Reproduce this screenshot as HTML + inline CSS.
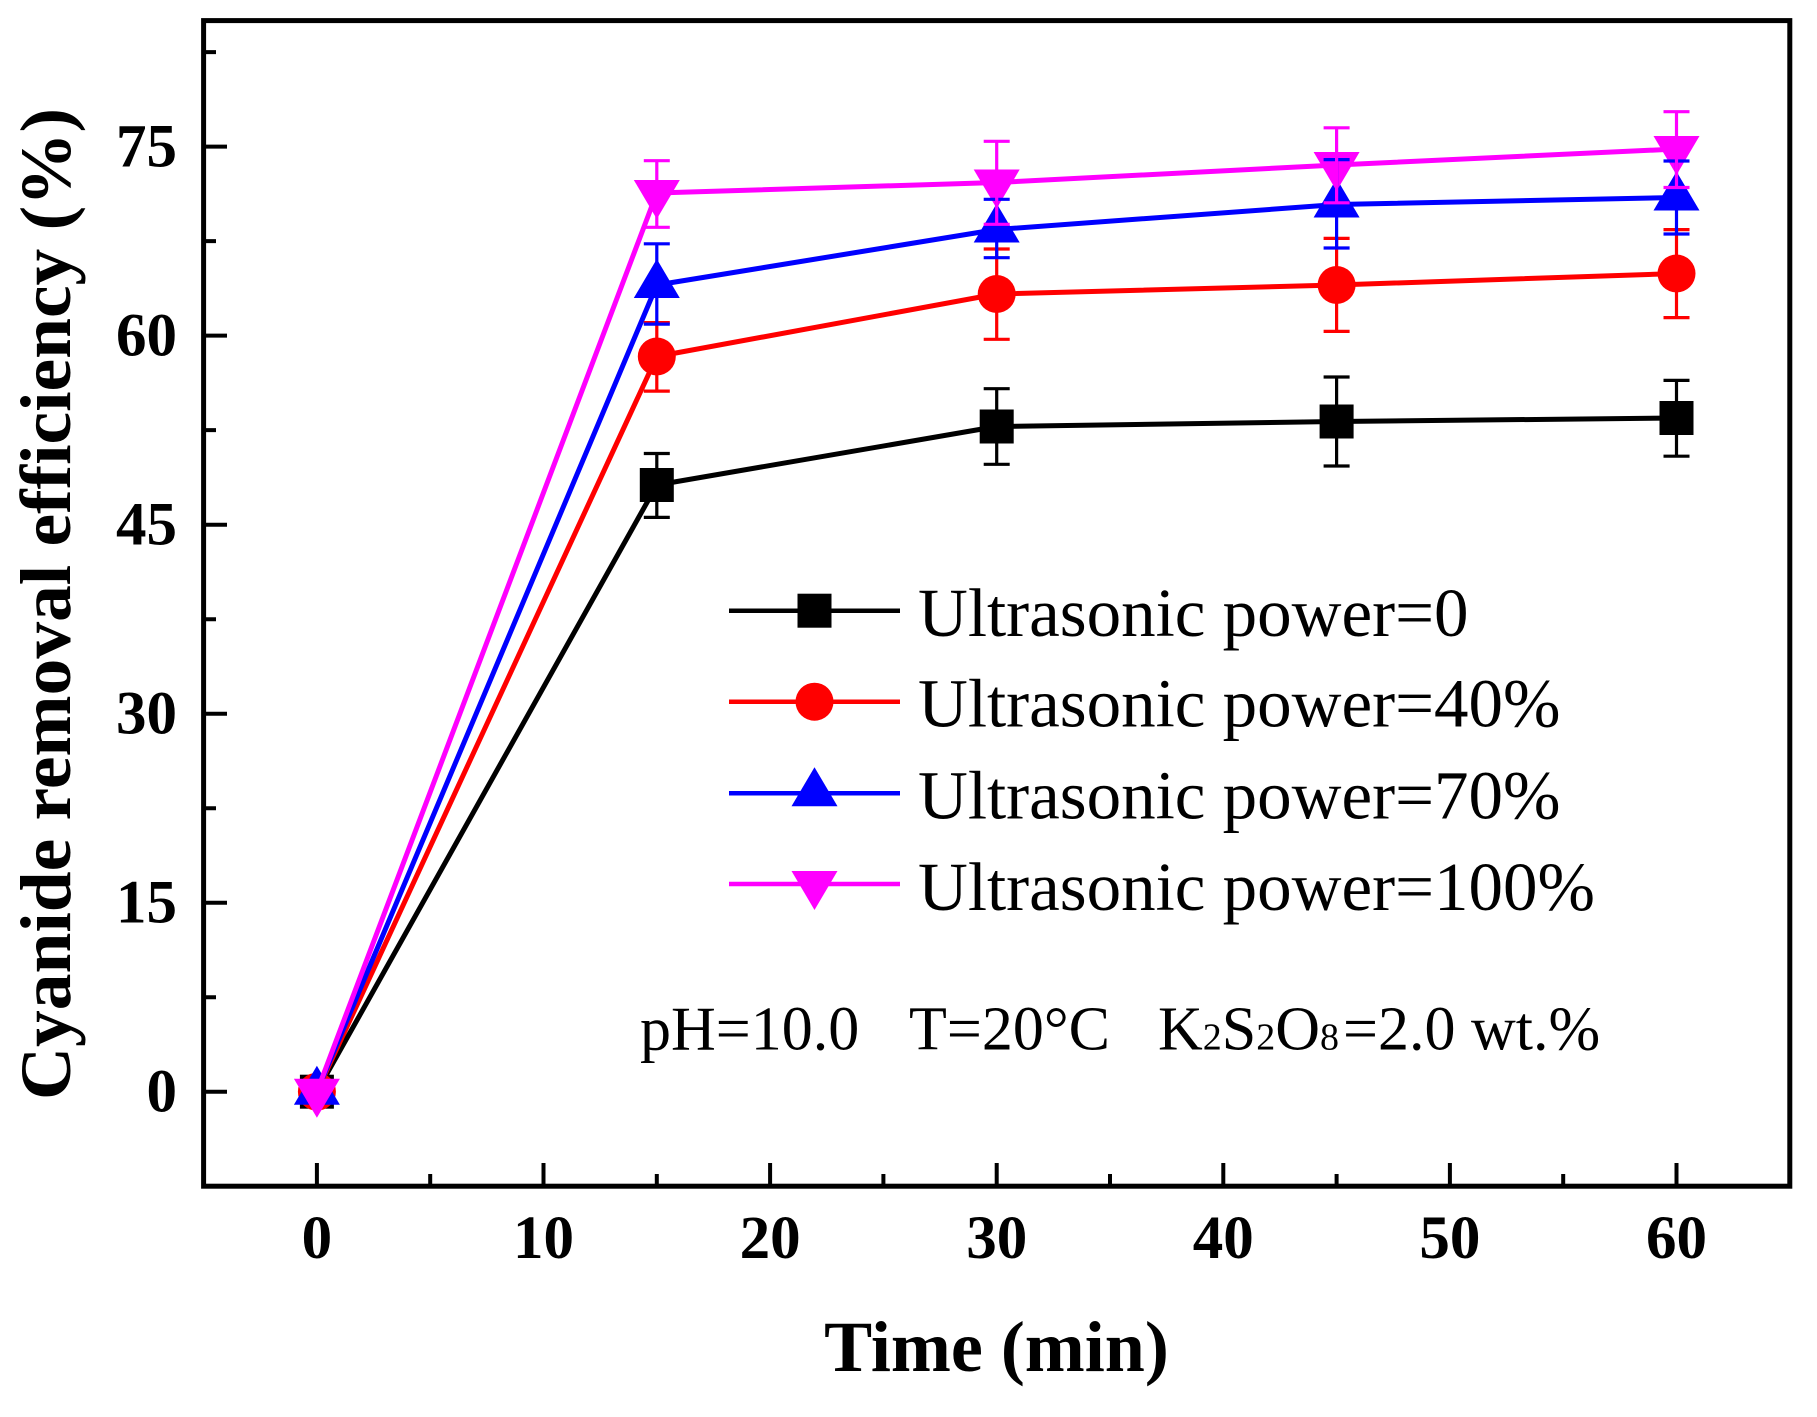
<!DOCTYPE html>
<html><head><meta charset="utf-8"><style>
html,body{margin:0;padding:0;background:#fff;}
svg{display:block;}
</style></head><body>
<svg width="1817" height="1417" viewBox="0 0 1817 1417" xmlns="http://www.w3.org/2000/svg">
<rect x="0" y="0" width="1817" height="1417" fill="#fff"/>
<!-- ticks -->
<g stroke="#000" stroke-width="4" fill="none">
<path d="M316.9 1186V1163 M543.5 1186V1163 M770.1 1186V1163 M996.7 1186V1163 M1223.3 1186V1163 M1449.9 1186V1163 M1676.5 1186V1163"/>
<path d="M430.2 1186V1174 M656.8 1186V1174 M883.4 1186V1174 M1110 1186V1174 M1336.6 1186V1174 M1563.2 1186V1174"/>
<path d="M204 1091.7H227 M204 902.7H227 M204 713.7H227 M204 524.7H227 M204 335.6H227 M204 146.6H227"/>
<path d="M204 997.2H216 M204 808.2H216 M204 619.2H216 M204 430.1H216 M204 241.1H216 M204 52.1H216"/>
</g>
<rect x="203.6" y="20.6" width="1586.2" height="1165.6" fill="none" stroke="#000" stroke-width="5"/>
<!-- tick labels -->
<g font-family="Liberation Serif, serif" font-weight="bold" font-size="61" fill="#000" text-anchor="middle">
<text x="316.9" y="1258">0</text>
<text x="543.5" y="1258">10</text>
<text x="770.1" y="1258">20</text>
<text x="996.7" y="1258">30</text>
<text x="1223.3" y="1258">40</text>
<text x="1449.9" y="1258">50</text>
<text x="1676.5" y="1258">60</text>
</g>
<g font-family="Liberation Serif, serif" font-weight="bold" font-size="61" fill="#000" text-anchor="end">
<text x="177" y="1111.7">0</text>
<text x="177" y="922.7">15</text>
<text x="177" y="733.7">30</text>
<text x="177" y="544.7">45</text>
<text x="177" y="355.6">60</text>
<text x="177" y="166.6">75</text>
</g>
<text x="996.5" y="1371" font-family="Liberation Serif, serif" font-weight="bold" font-size="72" text-anchor="middle">Time (min)</text>
<text transform="translate(70,604) rotate(-90)" font-family="Liberation Serif, serif" font-weight="bold" font-size="72" text-anchor="middle" textLength="992" lengthAdjust="spacingAndGlyphs">Cyanide removal efficiency (%)</text>

<!-- series black -->
<polyline fill="none" stroke="#000" stroke-width="5" stroke-linejoin="round" points="316.9,1091.7 656.8,485 996.7,426.5 1336.6,421.5 1676.5,418"/>
<g fill="#000">
<rect x="299.9" y="1074.7" width="34" height="34"/>
<rect x="639.8" y="468" width="34" height="34"/>
<rect x="979.7" y="409.5" width="34" height="34"/>
<rect x="1319.6" y="404.5" width="34" height="34"/>
<rect x="1659.5" y="401" width="34" height="34"/>
</g>
<!-- series red -->
<polyline fill="none" stroke="#f00" stroke-width="5" stroke-linejoin="round" points="316.9,1091.7 656.8,356.5 996.7,294 1336.6,285 1676.5,273.5"/>
<g fill="#f00">
<circle cx="316.9" cy="1091.7" r="19"/>
<circle cx="656.8" cy="356.5" r="19"/>
<circle cx="996.7" cy="294" r="19"/>
<circle cx="1336.6" cy="285" r="19"/>
<circle cx="1676.5" cy="273.5" r="19"/>
</g>
<!-- series blue -->
<polyline fill="none" stroke="#00f" stroke-width="5" stroke-linejoin="round" points="316.9,1091.7 656.8,285 996.7,229.5 1336.6,204.5 1676.5,197.5"/>
<g fill="#00f">
<polygon points="316.9,1065.7 293.9,1104.7 339.9,1104.7"/>
<polygon points="656.8,259 633.8,298 679.8,298"/>
<polygon points="996.7,203.5 973.7,242.5 1019.7,242.5"/>
<polygon points="1336.6,178.5 1313.6,217.5 1359.6,217.5"/>
<polygon points="1676.5,171.5 1653.5,210.5 1699.5,210.5"/>
</g>
<!-- series magenta -->
<polyline fill="none" stroke="#f0f" stroke-width="5" stroke-linejoin="round" points="316.9,1091.7 656.8,193 996.7,182.5 1336.6,165 1676.5,149"/>
<g fill="#f0f">
<polygon points="293.9,1078.7 339.9,1078.7 316.9,1117.7"/>
<polygon points="633.8,180 679.8,180 656.8,219"/>
<polygon points="973.7,169.5 1019.7,169.5 996.7,208.5"/>
<polygon points="1313.6,152 1359.6,152 1336.6,191"/>
<polygon points="1653.5,136 1699.5,136 1676.5,175"/>
</g>
<!-- error bars -->
<g stroke="#000" stroke-width="3.2" fill="none">
<path d="M656.8 453.5V517.4 M643.8 453.5H669.8 M643.8 517.4H669.8"/>
<path d="M996.7 388.7V464.3 M983.7 388.7H1009.7 M983.7 464.3H1009.7"/>
<path d="M1336.6 377V466 M1323.6 377H1349.6 M1323.6 466H1349.6"/>
<path d="M1676.5 380.4V456.2 M1663.5 380.4H1689.5 M1663.5 456.2H1689.5"/>
</g>
<g stroke="#f00" stroke-width="3.2" fill="none">
<path d="M656.8 322.6V391.1 M643.8 322.6H669.8 M643.8 391.1H669.8"/>
<path d="M996.7 249V339.3 M983.7 249H1009.7 M983.7 339.3H1009.7"/>
<path d="M1336.6 238.4V331.4 M1323.6 238.4H1349.6 M1323.6 331.4H1349.6"/>
<path d="M1676.5 229.6V317.6 M1663.5 229.6H1689.5 M1663.5 317.6H1689.5"/>
</g>
<g stroke="#00f" stroke-width="3.2" fill="none">
<path d="M656.8 243.8V324.1 M643.8 243.8H669.8 M643.8 324.1H669.8"/>
<path d="M996.7 199.3V257.7 M983.7 199.3H1009.7 M983.7 257.7H1009.7"/>
<path d="M1336.6 159.6V248 M1323.6 159.6H1349.6 M1323.6 248H1349.6"/>
<path d="M1676.5 161V234 M1663.5 161H1689.5 M1663.5 234H1689.5"/>
</g>
<g stroke="#f0f" stroke-width="3.2" fill="none">
<path d="M656.8 160.7V227.3 M643.8 160.7H669.8 M643.8 227.3H669.8"/>
<path d="M996.7 141.3V224.3 M983.7 141.3H1009.7 M983.7 224.3H1009.7"/>
<path d="M1336.6 127.8V202.8 M1323.6 127.8H1349.6 M1323.6 202.8H1349.6"/>
<path d="M1676.5 111.7V187.5 M1663.5 111.7H1689.5 M1663.5 187.5H1689.5"/>
</g>

<!-- legend -->
<g stroke-width="4.5" fill="none">
<path d="M729 610.7H900" stroke="#000"/>
<path d="M729 701.7H900" stroke="#f00"/>
<path d="M729 793.3H900" stroke="#00f"/>
<path d="M729 884H900" stroke="#f0f"/>
</g>
<rect x="797.5" y="593.7" width="34" height="34" fill="#000"/>
<circle cx="814.5" cy="701.7" r="19" fill="#f00"/>
<polygon points="814.5,767.3 791.5,806.3 837.5,806.3" fill="#00f"/>
<polygon points="791.5,871 837.5,871 814.5,910" fill="#f0f"/>
<g font-family="Liberation Serif, serif" font-size="69" fill="#000">
<text x="918" y="636">Ultrasonic power=0</text>
<text x="918" y="726.7">Ultrasonic power=40%</text>
<text x="918" y="818.3">Ultrasonic power=70%</text>
<text x="918" y="910">Ultrasonic power=100%</text>
</g>
<!-- annotation -->
<g font-family="Liberation Serif, serif" font-size="62" fill="#000">
<text x="640" y="1049.5">pH=10.0</text>
<text x="909" y="1049.5">T=20°C</text>
<text x="1158" y="1049.5">K<tspan font-size="38">2</tspan>S<tspan font-size="38">2</tspan>O<tspan font-size="38">8</tspan><tspan x="1343">=2.0 wt.%</tspan></text>
</g>
</svg>
</body></html>
